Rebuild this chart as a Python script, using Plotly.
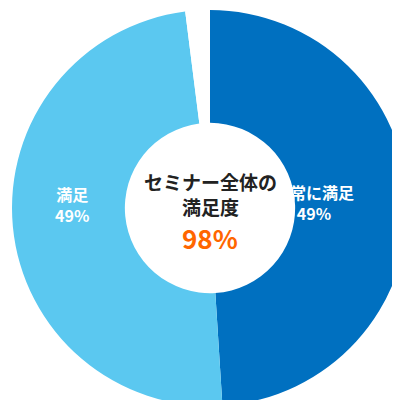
import plotly.graph_objects as go

labels = ["非常に満足", "満足", "その他"]
values = [49, 49, 2]
colors = ["#0070C0", "#5BC8F0", "#FFFFFF"]
label_texts = ["<b>非常に満足<br>49%</b>", "<b>満足<br>49%</b>"]

fig = go.Figure(go.Pie(
    labels=labels, values=values, hole=0.43, sort=False, direction="clockwise",
    rotation=0, marker=dict(colors=colors, line=dict(color="white", width=0)),
    textinfo="none", domain=dict(x=[0.01, 1.0], y=[0.005, 0.995]),
    showlegend=False, hoverinfo="label+percent"))
fig.add_annotation(x=0.87, y=0.515, xref="paper", yref="paper", showarrow=False,
    text=label_texts[0], font=dict(size=16, color="white", family="Noto Sans CJK JP"))
fig.add_annotation(x=0.113, y=0.51, xref="paper", yref="paper", showarrow=False,
    text=label_texts[1], font=dict(size=16, color="white", family="Noto Sans CJK JP"))
fig.add_annotation(x=0.505, y=0.535, xref="paper", yref="paper", showarrow=False,
    text="<b>セミナー全体の<br>満足度</b>", font=dict(size=19, color="#222222", family="Noto Sans CJK JP"))
fig.add_annotation(x=0.505, y=0.425, xref="paper", yref="paper", showarrow=False,
    text="<b>98%</b>", font=dict(size=26, color="#FF6600", family="Noto Sans CJK JP"))
fig.update_layout(width=400, height=400, margin=dict(l=0, r=0, t=0, b=0),
    paper_bgcolor="white")
fig.write_html("out.html")
